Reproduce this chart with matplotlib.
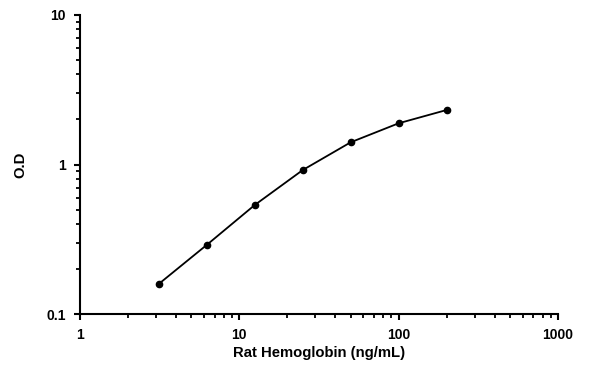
import matplotlib
matplotlib.use("Agg")
import matplotlib.pyplot as plt
from matplotlib.ticker import LogLocator, FixedLocator, FixedFormatter, NullFormatter

# standard curve data
conc = [3.125, 6.25, 12.5, 25, 50, 100, 200]
od = [0.159, 0.29, 0.536, 0.918, 1.408, 1.887, 2.315]

x_ticks = [1, 10, 100, 1000]
x_labels = ["1", "10", "100", "1000"]
y_ticks = [0.1, 1, 10]
y_labels = ["0.1", "1", "10"]

plt.rcParams['font.family'] = ['Liberation Sans', 'DejaVu Sans']

fig = plt.figure(figsize=(6, 3.71), dpi=100)
ax = fig.add_axes([0.1333, 0.1536, 0.7967, 0.806])

ax.plot(conc, od, '-o', color='black', lw=1.3, markersize=4.5)

ax.set_xscale('log')
ax.set_yscale('log')
ax.set_xlim(1, 1000)
ax.set_ylim(0.1, 10)

ax.xaxis.set_major_locator(FixedLocator(x_ticks))
ax.xaxis.set_major_formatter(FixedFormatter(x_labels))
ax.yaxis.set_major_locator(FixedLocator(y_ticks))
ax.yaxis.set_major_formatter(FixedFormatter(y_labels))
ax.xaxis.set_minor_locator(LogLocator(base=10, subs=range(2, 10)))
ax.yaxis.set_minor_locator(LogLocator(base=10, subs=range(2, 10)))
ax.xaxis.set_minor_formatter(NullFormatter())
ax.yaxis.set_minor_formatter(NullFormatter())

for s in ['top', 'right']:
    ax.spines[s].set_visible(False)
for s in ['left', 'bottom']:
    ax.spines[s].set_linewidth(1.5)

ax.tick_params(which='major', direction='out', length=4, width=1.5, pad=6)
ax.tick_params(which='minor', direction='out', length=3, width=1.3)
for lab in ax.get_xticklabels() + ax.get_yticklabels():
    lab.set_fontsize(10)
    lab.set_fontweight('bold')

ax.set_xlabel("Rat Hemoglobin (ng/mL)", fontsize=10.7, fontweight='bold', labelpad=3)
ax.set_ylabel("O.D", fontsize=10.7, fontweight='bold', labelpad=14)

fig.savefig("out.png", dpi=100)
